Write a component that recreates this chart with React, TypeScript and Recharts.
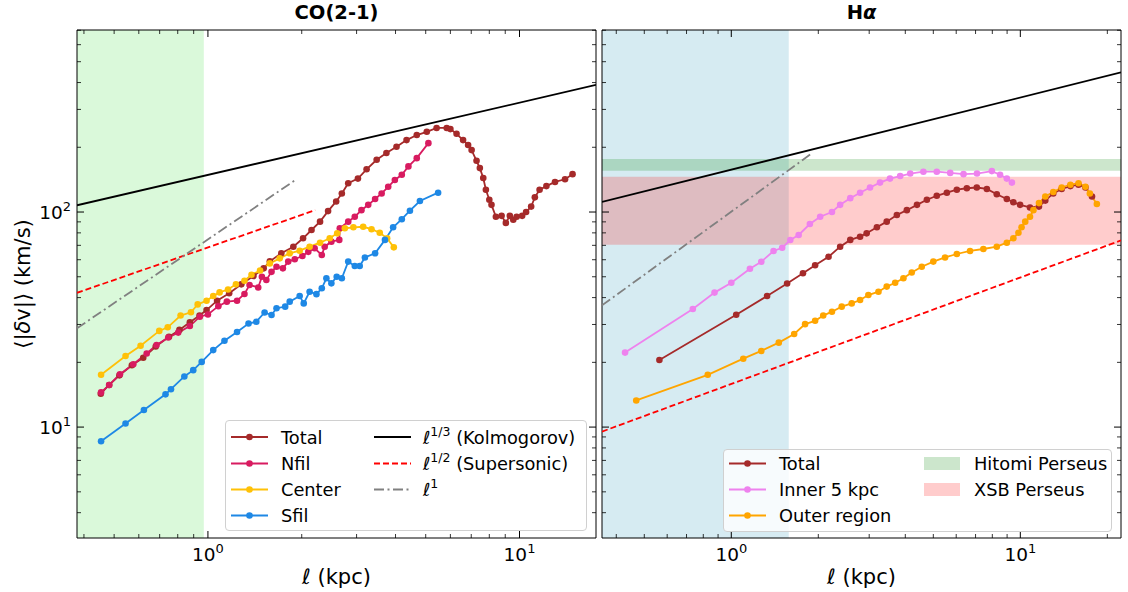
import React from "react";
import { LineChart, Line, XAxis, YAxis, ReferenceArea, Legend, Label } from "recharts";

const FONT = '"DejaVu Sans", "Noto Sans", sans-serif';

// ---- CO(2-1) panel ----
const TOTAL_L_X = [0.453, 0.482, 0.52, 0.57, 0.62, 0.68, 0.75, 0.81, 0.875, 0.94, 0.99, 1.07, 1.17, 1.28, 1.4, 1.51, 1.58, 1.72, 1.88, 2.02, 2.15, 2.29, 2.43, 2.58, 2.69, 2.82, 3.03, 3.23, 3.48, 3.74, 4.03, 4.34, 4.68, 5.04, 5.42, 5.84, 6.0, 6.28, 6.59, 6.84, 7.02, 7.28, 7.46, 7.65, 7.8, 8.0, 8.13, 8.4, 8.76, 9.04, 9.31, 9.55, 9.79, 10.2, 10.5, 10.9, 11.2, 11.6, 12.2, 13.0, 14.0, 14.8];
const TOTAL_L_Y = [14.3, 15.7, 17.4, 19.4, 21.0, 23.7, 26.3, 28.3, 30.7, 33.0, 35.0, 38.7, 41.9, 46.1, 50.4, 54.7, 59.0, 64.3, 69.0, 75.5, 82.5, 90.2, 101, 112, 122, 136, 143, 158, 175, 188, 201, 216, 228, 236, 246, 246, 243, 231, 216, 205, 194, 173, 160, 144, 127, 114, 108, 95, 96, 89, 96, 92, 95, 96, 100, 106, 117, 127, 132, 138, 142, 150];

const NFIL_X = [0.454, 0.482, 0.522, 0.576, 0.636, 0.684, 0.746, 0.803, 0.875, 0.942, 1.0, 1.08, 1.15, 1.24, 1.31, 1.36, 1.45, 1.49, 1.54, 1.6, 1.66, 1.74, 1.81, 1.9, 2.01, 2.1, 2.2, 2.32, 2.37, 2.49, 2.64, 2.65, 2.82, 2.96, 3.11, 3.27, 3.44, 3.61, 3.79, 3.98, 4.19, 4.4, 4.68, 5.1];
const NFIL_Y = [14.5, 15.7, 17.6, 19.6, 22.0, 24.1, 26.1, 27.5, 29.5, 32.6, 33.4, 36.5, 38.3, 38.7, 41.6, 45.8, 44.6, 50.0, 48.3, 52.7, 55.7, 54.7, 58.8, 60.3, 62.4, 65.3, 67.8, 63.1, 69.0, 72.8, 74.2, 84.0, 90.2, 95.1, 102, 108, 115, 122, 131, 141, 149, 163, 178, 209];

const CENTER_X = [0.454, 0.544, 0.608, 0.698, 0.743, 0.817, 0.882, 0.927, 0.99, 1.04, 1.09, 1.16, 1.23, 1.31, 1.38, 1.47, 1.58, 1.7, 1.83, 1.97, 2.12, 2.29, 2.46, 2.6, 2.75, 2.93, 3.15, 3.35, 3.56, 3.76, 3.95];
const CENTER_Y = [17.5, 21.4, 23.9, 28.0, 29.1, 33.0, 34.2, 37.2, 38.7, 40.7, 42.3, 43.6, 46.1, 47.9, 51.1, 53.5, 57.7, 60.9, 64.3, 66.1, 69.0, 72.0, 75.5, 79.6, 84.0, 84.9, 85.4, 83.2, 80.1, 75.5, 68.5];

const SFIL_X = [0.454, 0.544, 0.623, 0.731, 0.761, 0.84, 0.897, 0.955, 1.04, 1.13, 1.24, 1.35, 1.43, 1.52, 1.6, 1.66, 1.77, 1.83, 1.97, 2.03, 2.12, 2.23, 2.32, 2.4, 2.49, 2.59, 2.69, 2.82, 2.96, 3.07, 3.19, 3.44, 3.7, 3.93, 4.19, 4.45, 4.79, 5.48];
const SFIL_Y = [8.6, 10.4, 12.0, 14.2, 15.0, 17.2, 18.4, 20.1, 22.8, 25.2, 27.7, 30.3, 30.9, 34.1, 33.2, 35.7, 36.3, 38.3, 40.7, 37.6, 42.6, 41.5, 44.2, 49.2, 46.6, 50.0, 49.2, 58.8, 56.1, 56.1, 61.5, 64.3, 74.2, 84.9, 92.6, 101.4, 112.5, 123];

// reference power laws, endpoints
const KOLMO_L_X = [0.38, 17.6];
const KOLMO_L_Y = [107.5, 390];
const SUPER_L_X = [0.38, 2.21];
const SUPER_L_Y = [42.1, 102];
const LIN_L_X = [0.38, 1.91];
const LIN_L_Y = [28.8, 141];

// ---- H-alpha panel ----
const TOTAL_R_X = [0.564, 1.04, 1.33, 1.56, 1.77, 1.95, 2.17, 2.38, 2.58, 2.79, 2.94, 3.19, 3.45, 3.74, 4.05, 4.39, 4.75, 5.14, 5.57, 6.03, 6.53, 7.07, 7.66, 8.29, 8.98, 9.46, 9.98, 10.8, 11.6, 12.2, 13.0, 13.9, 14.9, 15.9, 16.8, 17.7];
const TOTAL_R_Y = [20.5, 33.3, 40.7, 46.5, 51.9, 56.6, 61.9, 69.0, 74.2, 76.8, 79.6, 84.9, 90.2, 96.8, 102, 108, 114, 119, 123, 127, 129, 130, 128, 121, 115, 111, 108, 105, 106, 113, 122, 128, 132, 134, 130, 118];

const INNER_X = [0.429, 0.736, 0.875, 1.0, 1.16, 1.27, 1.4, 1.5, 1.6, 1.71, 1.87, 2.03, 2.23, 2.38, 2.58, 2.79, 3.02, 3.27, 3.54, 3.84, 4.16, 4.62, 5.14, 5.72, 6.36, 7.08, 7.97, 8.51, 8.98, 9.35];
const INNER_Y = [22.2, 35.4, 42.2, 46.9, 54.5, 58.7, 65.9, 68.2, 74.1, 78.2, 87.9, 95.1, 100, 108, 116, 123, 130, 137, 143, 147, 151, 154, 154, 152, 150, 151, 155, 149, 143, 137];

const OUTER_X = [0.469, 0.829, 1.1, 1.27, 1.46, 1.65, 1.8, 1.95, 2.08, 2.23, 2.41, 2.61, 2.79, 2.98, 3.23, 3.45, 3.69, 3.94, 4.21, 4.56, 5.0, 5.49, 6.03, 6.7, 7.45, 8.29, 8.98, 9.46, 9.85, 10.1, 10.4, 10.8, 11.1, 11.6, 12.2, 13.0, 13.9, 14.9, 15.9, 16.8, 17.4, 18.4];
const OUTER_Y = [13.3, 17.5, 20.8, 22.6, 24.7, 27.1, 30.1, 31.2, 33.0, 34.4, 36.3, 37.6, 39.0, 41.1, 42.6, 45.0, 46.9, 49.2, 52.3, 55.7, 58.8, 61.5, 63.8, 65.9, 67.3, 69.0, 72.0, 75.5, 80.1, 84.9, 90.2, 95.1, 102, 110, 118, 124, 130, 134, 136, 131, 122, 109];

const KOLMO_R_X = [0.357, 22.3];
const KOLMO_R_Y = [111.4, 446];
const SUPER_R_X = [0.357, 22.3];
const SUPER_R_Y = [9.53, 73.8];
const LIN_R_X = [0.357, 1.895];
const LIN_R_Y = [36.8, 187];

const HITOMI_BAND = [155.6, 176.5];
const XSB_BAND = [70.5, 146];
const LEFT_SHADE_END = 0.97;
const RIGHT_SHADE_END = 1.58;

// axes
const Y_DOMAIN = [3.05, 702];
const LEFT_X_DOMAIN = [0.38, 17.6];
const RIGHT_X_DOMAIN = [0.357, 22.3];
const Y_TICKS = [4, 5, 6, 7, 8, 9, 10, 20, 30, 40, 50, 60, 70, 80, 90, 100, 200, 300, 400, 500, 600, 700];
const LEFT_X_TICKS = [0.4, 0.5, 0.6, 0.7, 0.8, 0.9, 1, 2, 3, 4, 5, 6, 7, 8, 9, 10];
const RIGHT_X_TICKS = [0.4, 0.5, 0.6, 0.7, 0.8, 0.9, 1, 2, 3, 4, 5, 6, 7, 8, 9, 10, 20];
const MAJOR_EXP: Record<string, string> = { "1": "0", "10": "1", "100": "2" };

const COLORS = {
  total: "#a52a2a",
  nfil: "#d81b60",
  center: "#ffc107",
  sfil: "#1e88e5",
  inner: "#ee82ee",
  outer: "#ffa500",
};

const PLOT_W = 519;
const PLOT_H = 508;
const TOP = 30;
const H = 592;

const TICK_FS = 18.5;
const SUP_FS = 13;
const LEG_FS = 17.8;
const LABEL_FS = 21;

const zip = (xs: number[], ys: number[]) => xs.map((x, i) => ({ x, y: ys[i] }));

const XTick = (props: any) => {
  const { x, y, payload } = props;
  const exp = MAJOR_EXP[String(payload.value)];
  const len = exp ? 7 : 4;
  const top = y - PLOT_H;
  return (
    <g>
      <line x1={x} y1={y} x2={x} y2={y - len} stroke="#000" strokeWidth={exp ? 1 : 0.8} />
      <line x1={x} y1={top} x2={x} y2={top + len} stroke="#000" strokeWidth={exp ? 1 : 0.8} />
      {exp && (
        <text x={x} y={y + 23} textAnchor="middle" fontSize={TICK_FS} fill="#000" fontFamily={FONT}>
          10<tspan dy={-8} fontSize={SUP_FS}>{exp}</tspan>
        </text>
      )}
    </g>
  );
};

const makeYTick = (showLabel: boolean) => (props: any) => {
  const { x, y, payload } = props;
  const exp = MAJOR_EXP[String(payload.value)];
  const len = exp ? 7 : 4;
  const right = x + PLOT_W;
  return (
    <g>
      <line x1={x} y1={y} x2={x + len} y2={y} stroke="#000" strokeWidth={exp ? 1 : 0.8} />
      <line x1={right} y1={y} x2={right - len} y2={y} stroke="#000" strokeWidth={exp ? 1 : 0.8} />
      {exp && showLabel && (
        <text x={x - 6} y={y + 6.5} textAnchor="end" fontSize={TICK_FS} fill="#000" fontFamily={FONT}>
          10<tspan dy={-8} fontSize={SUP_FS}>{exp}</tspan>
        </text>
      )}
    </g>
  );
};

const makeXLabel = (title: React.ReactNode) => (props: any) => {
  const vb = props.viewBox || {};
  const cx = vb.x + vb.width / 2;
  return (
    <g fontFamily={FONT} fill="#000">
      <text x={cx} y={19} textAnchor="middle" fontSize={19.5} fontWeight="bold">
        {title}
      </text>
      <text x={cx} y={584} textAnchor="middle" fontSize={LABEL_FS}>
        <tspan fontStyle="italic">ℓ</tspan> (kpc)
      </text>
    </g>
  );
};

const YLabel = () => (
  <text
    x={23}
    y={284}
    transform="rotate(-90, 23, 284)"
    textAnchor="middle"
    dominantBaseline="central"
    fontSize={LABEL_FS}
    fontFamily={FONT}
    fill="#000"
  >
    ⟨|<tspan fontStyle="italic">δ</tspan>v|⟩ (km/s)
  </text>
);

const boxStyle: React.CSSProperties = {
  position: "absolute",
  border: "1px solid #d0d0d0",
  borderRadius: 4,
  background: "rgba(255,255,255,0.8)",
  boxSizing: "border-box",
  fontFamily: FONT,
};

const Handle = ({ x, y, color, dot = true, dash }: { x: number; y: number; color: string; dot?: boolean; dash?: string }) => (
  <g>
    <line x1={x} y1={y} x2={x + 37} y2={y} stroke={color} strokeWidth={1.8} strokeDasharray={dash} />
    {dot && <circle cx={x + 18.5} cy={y} r={3.3} fill={color} />}
  </g>
);

const LegendText = ({ x, y, children }: { x: number; y: number; children: React.ReactNode }) => (
  <text x={x} y={y + 6.5} fontSize={LEG_FS} fill="#000">
    {children}
  </text>
);

const LeftLegend = () => {
  const rows = [17, 43.5, 69.5, 95.5];
  const items = [
    { name: "Total", c: COLORS.total },
    { name: "Nfil", c: COLORS.nfil },
    { name: "Center", c: COLORS.center },
    { name: "Sfil", c: COLORS.sfil },
  ];
  return (
    <div style={{ ...boxStyle, left: 225, top: 420, width: 362, height: 111 }}>
      <svg width={362} height={111} style={{ position: "absolute", left: -1, top: -1 }}>
        {items.map((it, i) => (
          <g key={it.name}>
            <Handle x={6} y={rows[i]} color={it.c} />
            <LegendText x={56} y={rows[i]}>{it.name}</LegendText>
          </g>
        ))}
        <Handle x={149} y={rows[0]} color="#000" dot={false} />
        <LegendText x={198} y={rows[0]}>
          <tspan fontStyle="italic">ℓ</tspan>
          <tspan dy={-8} fontSize={12.5}>1/3</tspan>
          <tspan dy={8}> (Kolmogorov)</tspan>
        </LegendText>
        <Handle x={149} y={rows[1]} color="#ff0000" dot={false} dash="6 3" />
        <LegendText x={198} y={rows[1]}>
          <tspan fontStyle="italic">ℓ</tspan>
          <tspan dy={-8} fontSize={12.5}>1/2</tspan>
          <tspan dy={8}> (Supersonic)</tspan>
        </LegendText>
        <Handle x={149} y={rows[2]} color="#808080" dot={false} dash="10 3.5 2 3.5" />
        <LegendText x={198} y={rows[2]}>
          <tspan fontStyle="italic">ℓ</tspan>
          <tspan dy={-8} fontSize={12.5}>1</tspan>
        </LegendText>
      </svg>
    </div>
  );
};

const RightLegend = () => {
  const rows = [14.5, 40.5, 66.5];
  const items = [
    { name: "Total", c: COLORS.total },
    { name: "Inner 5 kpc", c: COLORS.inner },
    { name: "Outer region", c: COLORS.outer },
  ];
  return (
    <div style={{ ...boxStyle, left: 125, top: 449, width: 389, height: 83 }}>
      <svg width={389} height={83} style={{ position: "absolute", left: -1, top: -1 }}>
        {items.map((it, i) => (
          <g key={it.name}>
            <Handle x={6} y={rows[i]} color={it.c} />
            <LegendText x={56} y={rows[i]}>{it.name}</LegendText>
          </g>
        ))}
        <rect x={201} y={rows[0] - 6.5} width={36} height={13} fill="#cce6cc" />
        <LegendText x={251} y={rows[0]}>Hitomi Perseus</LegendText>
        <rect x={201} y={rows[1] - 6.5} width={36} height={13} fill="#ffcccc" />
        <LegendText x={251} y={rows[1]}>XSB Perseus</LegendText>
      </svg>
    </div>
  );
};

const series = (data: { x: number; y: number }[], color: string, key: string) => (
  <Line
    key={key}
    data={data}
    dataKey="y"
    type="linear"
    stroke={color}
    strokeWidth={1.8}
    dot={{ r: 3.3, fill: color, stroke: color, strokeWidth: 0 }}
    activeDot={false}
    isAnimationActive={false}
    legendType="none"
  />
);

const refLine = (data: { x: number; y: number }[], color: string, key: string, dash?: string) => (
  <Line
    key={key}
    data={data}
    dataKey="y"
    type="linear"
    stroke={color}
    strokeWidth={1.8}
    strokeDasharray={dash}
    dot={false}
    activeDot={false}
    isAnimationActive={false}
    legendType="none"
  />
);

function CoPanel() {
  return (
    <LineChart width={600} height={H} margin={{ top: TOP, right: 4, bottom: 14, left: 0 }}>
      <XAxis
        type="number"
        dataKey="x"
        scale="log"
        domain={LEFT_X_DOMAIN}
        allowDataOverflow
        ticks={LEFT_X_TICKS}
        interval={0}
        tick={XTick}
        tickLine={false}
        tickSize={0}
        tickMargin={0}
        axisLine={false}
        height={40}
        label={<Label content={makeXLabel("CO(2-1)")} />}
      />
      <YAxis
        type="number"
        scale="log"
        domain={Y_DOMAIN}
        allowDataOverflow
        ticks={Y_TICKS}
        interval={0}
        tick={makeYTick(true)}
        tickLine={false}
        tickSize={0}
        tickMargin={0}
        axisLine={false}
        width={77}
        label={<Label content={YLabel} />}
      />
      <ReferenceArea x1={LEFT_X_DOMAIN[0]} x2={LEFT_SHADE_END} y1={Y_DOMAIN[0]} y2={Y_DOMAIN[1]} fill="#90ee90" fillOpacity={0.33} stroke="none" ifOverflow="visible" />
      {refLine(zip(KOLMO_L_X, KOLMO_L_Y), "#000", "k")}
      {refLine(zip(SUPER_L_X, SUPER_L_Y), "#ff0000", "s", "6 3")}
      {refLine(zip(LIN_L_X, LIN_L_Y), "#808080", "l", "10 3.5 2 3.5")}
      {series(zip(TOTAL_L_X, TOTAL_L_Y), COLORS.total, "total")}
      {series(zip(NFIL_X, NFIL_Y), COLORS.nfil, "nfil")}
      {series(zip(CENTER_X, CENTER_Y), COLORS.center, "center")}
      {series(zip(SFIL_X, SFIL_Y), COLORS.sfil, "sfil")}
      <ReferenceArea x1={LEFT_X_DOMAIN[0]} x2={LEFT_X_DOMAIN[1]} y1={Y_DOMAIN[0]} y2={Y_DOMAIN[1]} fill="none" stroke="#000" strokeWidth={1} ifOverflow="visible" />
      <Legend
        layout="vertical"
        align="center"
        verticalAlign="middle"
        wrapperStyle={{ left: 0, top: 0, width: 0, height: 0 }}
        content={() => <LeftLegend />}
      />
    </LineChart>
  );
}

function HaPanel() {
  return (
    <LineChart width={530} height={H} margin={{ top: TOP, right: 7, bottom: 14, left: 0 }}>
      <XAxis
        type="number"
        dataKey="x"
        scale="log"
        domain={RIGHT_X_DOMAIN}
        allowDataOverflow
        ticks={RIGHT_X_TICKS}
        interval={0}
        tick={XTick}
        tickLine={false}
        tickSize={0}
        tickMargin={0}
        axisLine={false}
        height={40}
        label={
          <Label
            content={makeXLabel(
              <>
                H<tspan fontStyle="italic">α</tspan>
              </>
            )}
          />
        }
      />
      <YAxis
        type="number"
        scale="log"
        domain={Y_DOMAIN}
        allowDataOverflow
        ticks={Y_TICKS}
        interval={0}
        tick={makeYTick(false)}
        tickLine={false}
        tickSize={0}
        tickMargin={0}
        axisLine={false}
        width={4}
      />
      <ReferenceArea x1={RIGHT_X_DOMAIN[0]} x2={RIGHT_SHADE_END} y1={Y_DOMAIN[0]} y2={Y_DOMAIN[1]} fill="#add8e6" fillOpacity={0.5} stroke="none" ifOverflow="visible" />
      <ReferenceArea x1={RIGHT_X_DOMAIN[0]} x2={RIGHT_X_DOMAIN[1]} y1={HITOMI_BAND[0]} y2={HITOMI_BAND[1]} fill="#008000" fillOpacity={0.2} stroke="none" ifOverflow="visible" />
      <ReferenceArea x1={RIGHT_X_DOMAIN[0]} x2={RIGHT_X_DOMAIN[1]} y1={XSB_BAND[0]} y2={XSB_BAND[1]} fill="#ff0000" fillOpacity={0.2} stroke="none" ifOverflow="visible" />
      {refLine(zip(KOLMO_R_X, KOLMO_R_Y), "#000", "k")}
      {refLine(zip(SUPER_R_X, SUPER_R_Y), "#ff0000", "s", "6 3")}
      {refLine(zip(LIN_R_X, LIN_R_Y), "#808080", "l", "10 3.5 2 3.5")}
      {series(zip(TOTAL_R_X, TOTAL_R_Y), COLORS.total, "total")}
      {series(zip(INNER_X, INNER_Y), COLORS.inner, "inner")}
      {series(zip(OUTER_X, OUTER_Y), COLORS.outer, "outer")}
      <ReferenceArea x1={RIGHT_X_DOMAIN[0]} x2={RIGHT_X_DOMAIN[1]} y1={Y_DOMAIN[0]} y2={Y_DOMAIN[1]} fill="none" stroke="#000" strokeWidth={1} ifOverflow="visible" />
      <Legend
        layout="vertical"
        align="center"
        verticalAlign="middle"
        wrapperStyle={{ left: 0, top: 0, width: 0, height: 0 }}
        content={() => <RightLegend />}
      />
    </LineChart>
  );
}

export default function App() {
  return (
    <div style={{ position: "absolute", left: 0, top: 0, width: 1128, height: H, background: "#fff", fontFamily: FONT }}>
      <div style={{ position: "absolute", left: 0, top: 0 }}>
        <CoPanel />
      </div>
      <div style={{ position: "absolute", left: 598, top: 0 }}>
        <HaPanel />
      </div>
    </div>
  );
}
